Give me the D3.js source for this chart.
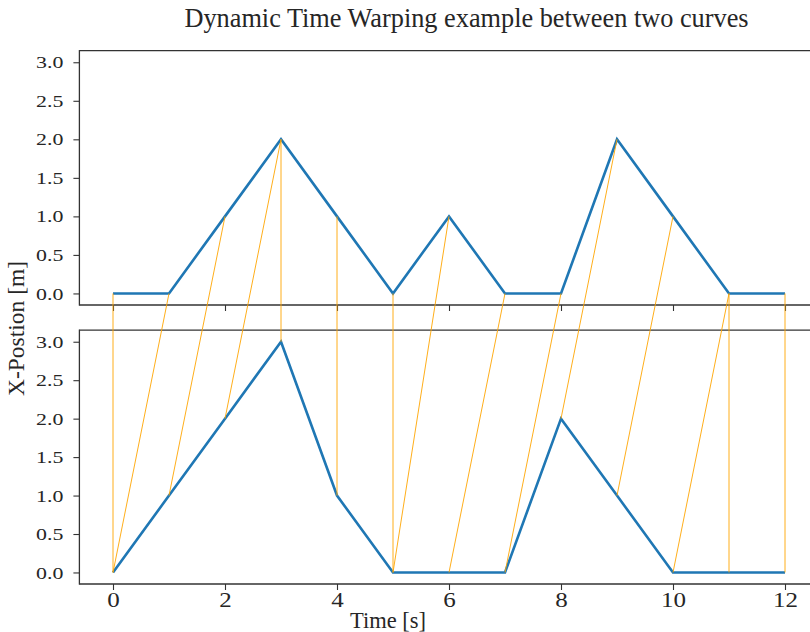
<!DOCTYPE html>
<html>
<head>
<meta charset="utf-8">
<script src="https://cdn.jsdelivr.net/npm/d3@7"></script>
<style>
  html, body { margin: 0; padding: 0; background: #fff; }
  svg { display: block; }
  text { font-family: "Liberation Serif", "Times New Roman", serif; fill: #262626; }
</style>
</head>
<body>
<svg id="chart" width="810" height="632"></svg>
<script>
// ---- data ----
const timeSteps = [0, 1, 2, 3, 4, 5, 6, 7, 8, 9, 10, 11, 12];
const curveA = [0, 0, 1, 2, 1, 0, 1, 0, 0, 2, 1, 0, 0];
const curveB = [0, 1, 2, 3, 1, 0, 0, 0, 2, 1, 0, 0, 0];
// warping path: pairs [index in curveA, index in curveB]
const warpPath = [[0,0],[1,0],[2,1],[3,2],[3,3],[4,4],[5,5],[6,5],[7,6],[8,7],[9,8],[10,9],[11,10],[11,11],[12,12]];
const yTicks = [0, 0.5, 1.0, 1.5, 2.0, 2.5, 3.0];
const xTicks = [0, 2, 4, 6, 8, 10, 12];
const titleText = "Dynamic Time Warping example between two curves";
const xLabel = "Time [s]";
const yLabel = "X-Postion [m]";

// ---- layout ----
const svg = d3.select("#chart");
const leftX = 79.4, rightX = 818.6;
const panels = [
  { top: 50.7, bottom: 305, data: curveA, showXLabels: false },
  { top: 330.2, bottom: 584, data: curveB, showXLabels: true }
];
const spineColor = "#333333";
const textColor = "#262626";
const tickLen = 6;

const x = d3.scaleLinear().domain([-0.6, 12.6]).range([leftX, rightX]);
panels.forEach(p => {
  p.y = d3.scaleLinear().domain([-0.15, 3.15]).range([p.bottom, p.top]);
});

panels.forEach(p => {
  const g = svg.append("g");
  const line = d3.line().x((d, i) => x(timeSteps[i])).y(d => p.y(d));
  g.append("path").datum(p.data)
    .attr("d", line)
    .attr("fill", "none")
    .attr("stroke", "#1f77b4")
    .attr("stroke-width", 2.6)
    .attr("stroke-linejoin", "miter");

  const yAxis = d3.axisLeft(p.y).tickValues(yTicks).tickFormat(d3.format(".1f")).tickSize(tickLen).tickPadding(9);
  const ya = g.append("g").attr("transform", `translate(${leftX},0)`).call(yAxis);
  ya.attr("font-family", null).attr("font-size", null);
  ya.select(".domain").remove();
  ya.selectAll(".tick line").attr("stroke", spineColor).attr("stroke-width", 1.1);
  ya.selectAll(".tick text")
    .attr("font-size", 17.5).attr("fill", textColor)
    .attr("x", 0)
    .attr("transform", `translate(${-(tickLen + 10)},0) scale(1.25,1)`);

  const xAxis = d3.axisBottom(x).tickValues(xTicks).tickSize(tickLen).tickPadding(2.5)
    .tickFormat(p.showXLabels ? d3.format("d") : () => "");
  const xa = g.append("g").attr("transform", `translate(0,${p.bottom})`).call(xAxis);
  xa.attr("font-family", null).attr("font-size", null);
  xa.select(".domain").remove();
  xa.selectAll(".tick line").attr("stroke", spineColor).attr("stroke-width", 1.1);
  xa.selectAll(".tick text").attr("font-size", 20.5).attr("fill", textColor)
    .attr("transform", "scale(1.22,1)");

  g.append("line").attr("x1", leftX).attr("x2", rightX).attr("y1", p.top).attr("y2", p.top)
    .attr("stroke", spineColor).attr("stroke-width", 1.3);
  g.append("line").attr("x1", leftX).attr("x2", rightX).attr("y1", p.bottom).attr("y2", p.bottom)
    .attr("stroke", spineColor).attr("stroke-width", 1.3);
  g.append("line").attr("x1", leftX).attr("x2", leftX).attr("y1", p.top - 0.65).attr("y2", p.bottom + 0.65)
    .attr("stroke", spineColor).attr("stroke-width", 1.3);
});

const pTop = panels[0], pBot = panels[1];
svg.append("g").selectAll("line").data(warpPath).join("line")
  .attr("x1", d => x(timeSteps[d[0]]))
  .attr("y1", d => pTop.y(curveA[d[0]]))
  .attr("x2", d => x(timeSteps[d[1]]))
  .attr("y2", d => pBot.y(curveB[d[1]]))
  .attr("stroke", "#ffa500")
  .attr("stroke-width", 0.9);

svg.append("text").attr("x", 466.5).attr("y", 26.7).attr("text-anchor", "middle")
  .attr("font-size", 26.3).text(titleText);
svg.append("text").attr("x", 388).attr("y", 627.5).attr("text-anchor", "middle")
  .attr("font-size", 22.5).text(xLabel);
svg.append("text").attr("transform", "translate(23.6,328.5) rotate(-90)").attr("text-anchor", "middle")
  .attr("font-size", 23.5).text(yLabel);
</script>
</body>
</html>
